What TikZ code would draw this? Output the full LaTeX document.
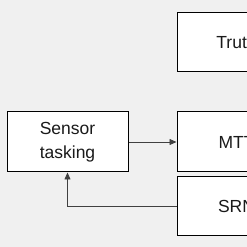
\documentclass[tikz,border=0pt]{standalone}
\usepackage{fontspec}
\setmainfont{Liberation Sans}
\usetikzlibrary{arrows.meta}
\definecolor{bg}{HTML}{F0F0F0}
\definecolor{txt}{HTML}{1A1A1A}
\definecolor{wire}{HTML}{404040}
\begin{document}
\begin{tikzpicture}[x=1pt,y=1pt,
  box/.style={draw=black, line width=1pt, fill=white, inner sep=0pt, text=txt,
    font=\fontsize{17.5}{24}\selectfont, align=center},
  wireline/.style={draw=wire, line width=0.8pt},
  tip/.style={-{Triangle[length=7pt,width=6pt]}}]
\useasboundingbox (0,0) rectangle (247,247);
\clip (0,0) rectangle (247,247);
\fill[bg] (0,0) rectangle (247,247);
\node[box, minimum width=121pt, minimum height=60pt] (sensor) at (67.5,105) {Sensor\\tasking};
\node[box, minimum width=119pt, minimum height=59pt] (truth) at (236.5,204.5) {Truth};
\node[box, minimum width=119pt, minimum height=60pt] (mtt) at (236.5,105) {MTT};
\node[box, minimum width=119pt, minimum height=59pt] (srn) at (236.5,40.5) {SRN};
\draw[wireline, tip] (sensor.east) -- (mtt.west);
\draw[wireline, tip] (srn.west) -| (sensor.south);
\end{tikzpicture}
\end{document}
